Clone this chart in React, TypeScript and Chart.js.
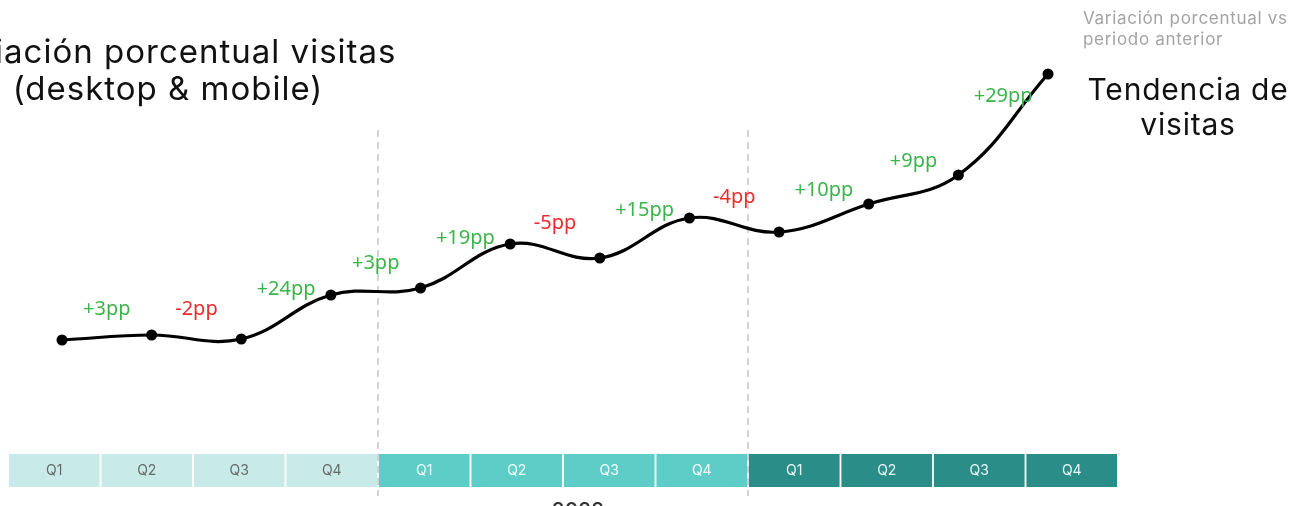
import React, { useEffect, useRef } from "react";
import { Chart, registerables } from "chart.js";
Chart.register(...registerables);

const quarters = ["Q1", "Q2", "Q3", "Q4", "Q1", "Q2", "Q3", "Q4", "Q1", "Q2", "Q3", "Q4"];
const quarterYear = [0, 0, 0, 0, 1, 1, 1, 1, 2, 2, 2, 2];
const yearLabels = ["", "2022", ""];
const visits = [100, 105, 101, 145, 152, 196, 182, 222, 208, 236, 265, 366];
const changes = [3, -2, 24, 3, 19, -5, 15, -4, 10, 9, 29];
const stripValues = [1, 1, 1, 1, 1, 1, 1, 1, 1, 1, 1, 1];

const yearColors = ["#c8ebea", "#5ecdc8", "#2b8d88"];
const qTextColors = ["#6a6a6a", "#f2fbfb", "#e9f6f5"];
const FONT = "Inter, 'Noto Sans', sans-serif";
const LABEL_FONT = "'Noto Sans', sans-serif";

const W = 1308;
const H = 506;

function setSpacing(ctx: any, px: number) {
  if ("letterSpacing" in ctx) ctx.letterSpacing = `${px}px`;
}

const stripPlugin = {
  id: "stripDeco",
  beforeDatasetsDraw(chart: any) {
    const meta = chart.getDatasetMeta(0);
    const ctx = chart.ctx;
    ctx.save();
    ctx.strokeStyle = "#c6c6c6";
    ctx.lineWidth = 1.5;
    ctx.setLineDash([7, 5]);
    for (let i = 1; i < quarterYear.length; i++) {
      if (quarterYear[i] !== quarterYear[i - 1]) {
        const x = (meta.data[i - 1].x + meta.data[i].x) / 2;
        ctx.beginPath();
        ctx.moveTo(x, 130);
        ctx.lineTo(x, chart.chartArea.bottom + 9);
        ctx.stroke();
      }
    }
    ctx.restore();
  },
  afterDatasetsDraw(chart: any) {
    const meta = chart.getDatasetMeta(0);
    const ctx = chart.ctx;
    const area = chart.chartArea;
    ctx.save();
    ctx.textAlign = "center";
    ctx.textBaseline = "middle";
    ctx.font = `400 14px ${FONT}`;
    meta.data.forEach((bar: any, i: number) => {
      ctx.fillStyle = qTextColors[quarterYear[i]];
      ctx.fillText(quarters[i], bar.x, (area.top + area.bottom) / 2);
    });
    // year labels
    ctx.font = `500 21px ${FONT}`;
    ctx.fillStyle = "#333";
    ctx.textBaseline = "top";
    yearLabels.forEach((y, yi) => {
      if (!y) return;
      const idx = quarterYear.map((q, i) => (q === yi ? i : -1)).filter((i) => i >= 0);
      const x = (meta.data[idx[0]].x + meta.data[idx[idx.length - 1]].x) / 2 + 15;
      ctx.fillText(y, x, area.bottom + 14);
    });
    // titles
    ctx.textBaseline = "alphabetic";
    ctx.fillStyle = "#111";
    ctx.font = `400 33px ${FONT}`;
    setSpacing(ctx, 1);
    ctx.textAlign = "center";
    ctx.fillText("Variación porcentual visitas", 168, 63);
    ctx.fillText("(desktop & mobile)", 168, 100);
    ctx.font = `400 30px ${FONT}`;
    setSpacing(ctx, 0.8);
    ctx.fillText("Tendencia de", 1188, 100);
    ctx.fillText("visitas", 1188, 135);
    ctx.textAlign = "left";
    ctx.fillStyle = "#a3a3a3";
    ctx.font = `400 17px ${FONT}`;
    setSpacing(ctx, 0.7);
    ctx.fillText("Variación porcentual vs", 1083, 24);
    ctx.fillText("periodo anterior", 1083, 45);
    ctx.restore();
  },
};

const labelPlugin = {
  id: "changeLabels",
  afterDatasetsDraw(chart: any) {
    const pts = chart.getDatasetMeta(0).data;
    const ctx = chart.ctx;
    ctx.save();
    ctx.textAlign = "center";
    ctx.textBaseline = "middle";
    ctx.font = `400 20px ${LABEL_FONT}`;
    changes.forEach((c, i) => {
      const a = pts[i];
      const b = pts[i + 1];
      if (!a || !b) return;
      const x = (a.x + b.x) / 2;
      const y = (a.y + b.y) / 2 - 28;
      ctx.fillStyle = c >= 0 ? "#3bb54a" : "#ec2b2b";
      ctx.fillText(`${c >= 0 ? "+" : "-"}${Math.abs(c)}pp`, x, y);
    });
    ctx.restore();
  },
};

export default function App() {
  const stripRef = useRef<HTMLCanvasElement>(null);
  const lineRef = useRef<HTMLCanvasElement>(null);

  useEffect(() => {
    const strip = new Chart(stripRef.current as HTMLCanvasElement, {
      type: "bar",
      data: {
        labels: quarters,
        datasets: [
          {
            data: stripValues,
            backgroundColor: quarterYear.map((y) => yearColors[y]),
            borderWidth: 0,
            barPercentage: 0.98,
            categoryPercentage: 1,
          },
        ],
      },
      options: {
        responsive: false,
        animation: false,
        devicePixelRatio: 1,
        layout: { padding: { left: 8, right: W - 1118, top: 454, bottom: H - 487 } },
        scales: {
          x: { display: false },
          y: { display: false, min: 0, max: 1 },
        },
        plugins: { legend: { display: false }, tooltip: { enabled: false } },
      },
      plugins: [stripPlugin],
    });

    const line = new Chart(lineRef.current as HTMLCanvasElement, {
      type: "line",
      data: {
        labels: quarters,
        datasets: [
          {
            data: visits,
            borderColor: "#000",
            borderWidth: 3.2,
            tension: 0.4,
            pointRadius: 5.5,
            pointBackgroundColor: "#000",
            pointBorderWidth: 0,
            fill: false,
            clip: false,
          } as any,
        ],
      },
      options: {
        responsive: false,
        animation: false,
        devicePixelRatio: 1,
        layout: { padding: { left: 62, right: W - 1048, top: 40, bottom: H - 440 } },
        scales: {
          x: { display: false },
          y: { display: false, min: 0, max: 400 },
        },
        plugins: { legend: { display: false }, tooltip: { enabled: false } },
      },
      plugins: [labelPlugin],
    });

    return () => {
      strip.destroy();
      line.destroy();
    };
  }, []);

  return (
    <div style={{ position: "fixed", left: 0, top: 0, width: W, height: H, background: "#fff", overflow: "hidden" }}>
      <canvas ref={stripRef} width={W} height={H} style={{ position: "absolute", left: 0, top: 0 }} />
      <canvas ref={lineRef} width={W} height={H} style={{ position: "absolute", left: 0, top: 0 }} />
    </div>
  );
}
